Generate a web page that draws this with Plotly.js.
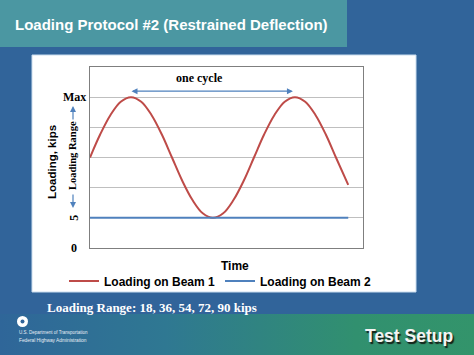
<!DOCTYPE html>
<html>
<head>
<meta charset="utf-8">
<script src="https://cdn.plot.ly/plotly-3.0.1.min.js"></script>
<style>
  html, body { margin: 0; padding: 0; }
  #slide { position: relative; width: 474px; height: 355px; overflow: hidden;
           background: #31649a; }
  #band { position: absolute; left: 0; top: 314px; width: 474px; height: 41px;
          background: linear-gradient(to right, #2f6699 0%, #2f7892 35%, #31906f 75%, #33946b 100%); }
  #chart { position: absolute; left: 0; top: 0; width: 474px; height: 355px; }
</style>
</head>
<body>
<div id="slide">
  <div id="band"></div>
  <div id="chart"></div>
</div>
<script>
// ---- data ----
const timeBeam1 = [0, 0.5, 1, 1.5, 2, 2.5, 3, 3.5, 4, 4.5, 5, 5.5, 6, 6.5, 7, 7.5, 8, 8.5, 9, 9.5, 10, 10.5, 11, 11.5, 12, 12.6];
const loadBeam1 = [3, 3.77, 4.41, 4.85, 5, 4.85, 4.41, 3.77, 3, 2.23, 1.59, 1.15, 1, 1.15, 1.59, 2.23, 3, 3.77, 4.41, 4.85, 5, 4.85, 4.41, 3.77, 3, 2.09];
const timeBeam2 = [0, 12.6];
const loadBeam2 = [1, 1];
const tickValues = [0, 1, 5];
const tickLabels = ['0', '5', 'Max'];
const seriesNames = ['Loading on Beam 1', 'Loading on Beam 2'];

// pixel helpers for placing decorations (plot area: x 90..363, y 67..248)
const L = 90, R = 363, T = 67, B = 248;
const px = x => (x - L) / (R - L);
const py = y => (B - y) / (B - T);

const RED = '#be4b48', BLUE = '#4f81bd';
const serif = 'Liberation Serif, Times New Roman, serif';
const sans = 'Liberation Sans, Arial, sans-serif';

function label(x, y, text, font, opts) {
  return Object.assign({ xref: 'paper', yref: 'paper', x: px(x), y: py(y), text: text,
    showarrow: false, xanchor: 'center', yanchor: 'middle', font: font }, opts || {});
}

const annotations = [];
// tick labels
tickValues.forEach((v, i) => {
  annotations.push({ xref: 'paper', yref: 'y', x: px(74), y: v, text: tickLabels[i],
    showarrow: false, xanchor: 'center', yanchor: 'middle',
    textangle: tickLabels[i] === '5' ? -90 : 0,
    font: { family: serif, size: 12, color: '#000', weight: 'bold' } });
});
// loading range label and arrows
annotations.push({ xref: 'paper', yref: 'y', x: px(73), y: 3.05, text: 'Loading Range',
  showarrow: false, textangle: -90, xanchor: 'center', yanchor: 'middle',
  font: { family: serif, size: 10.5, color: '#000', weight: 'bold' } });
annotations.push({ xref: 'paper', yref: 'y', x: px(73), y: 4.71, ax: 0, ay: 15, text: '',
  showarrow: true, arrowhead: 2, arrowsize: 1, arrowwidth: 1.2, arrowcolor: BLUE });
annotations.push({ xref: 'paper', yref: 'y', x: px(73), y: 1.33, ax: 0, ay: -15, text: '',
  showarrow: true, arrowhead: 2, arrowsize: 1, arrowwidth: 1.2, arrowcolor: BLUE });
// one cycle
annotations.push({ xref: 'x', yref: 'y', x: 9.9, y: 5.2, ax: 1.95, ay: 5.2,
  axref: 'x', ayref: 'y', text: '', showarrow: true, arrowside: 'end+start',
  arrowhead: 2, arrowsize: 1, arrowwidth: 1.2, arrowcolor: BLUE });
annotations.push(label(199, 78, 'one cycle', { family: serif, size: 12, color: '#000', weight: 'bold' }));
// axis titles
annotations.push(label(52, 162, 'Loading, kips', { family: sans, size: 11.5, color: '#000', weight: 'bold' }, { textangle: -90 }));
annotations.push(label(235, 266, 'Time', { family: sans, size: 12, color: '#000', weight: 'bold' }));
// slide texts
annotations.push(label(13, 24, 'Loading Protocol #2 (Restrained Deflection)',
  { family: sans, size: 15, color: '#ffffff', weight: 'bold' }, { xanchor: 'left' }));
annotations.push(label(45, 307, 'Loading Range: 18, 36, 54, 72, 90 kips',
  { family: serif, size: 13, color: '#ffffff', weight: 'bold' }, { xanchor: 'left' }));
annotations.push(label(455, 336, 'Test Setup',
  { family: sans, size: 17.5, color: '#f4f4f4', weight: 'bold', shadow: '1.5px 1.5px 1px #142018' }, { xanchor: 'right' }));
annotations.push(label(17, 332, 'U.S. Department of Transportation',
  { family: sans, size: 4.5, color: '#e8eef5' }, { xanchor: 'left' }));
annotations.push(label(17, 340, 'Federal Highway Administration',
  { family: sans, size: 4.8, color: '#e8eef5' }, { xanchor: 'left' }));

const shapes = [
  // title bar
  { type: 'rect', xref: 'paper', yref: 'paper', x0: px(0), x1: px(347), y0: py(47), y1: py(0),
    fillcolor: '#4b97a2', line: { width: 0 }, layer: 'below' },
  // white panel
  { type: 'rect', xref: 'paper', yref: 'paper', x0: px(32), x1: px(416), y0: py(292), y1: py(55),
    fillcolor: '#ffffff', line: { color: '#c9dcee', width: 1 }, layer: 'below' },
  // DOT logo
  { type: 'circle', xref: 'paper', yref: 'paper', x0: px(17), x1: px(28), y0: py(327), y1: py(316),
    fillcolor: '#ffffff', line: { width: 0 } },
  { type: 'circle', xref: 'paper', yref: 'paper', x0: px(20.5), x1: px(24.5), y0: py(323.5), y1: py(319.5),
    fillcolor: '#31649a', line: { width: 0 } }
];

const traces = [
  { x: timeBeam1, y: loadBeam1, name: seriesNames[0], mode: 'lines',
    line: { color: RED, width: 2, shape: 'spline' } },
  { x: timeBeam2, y: loadBeam2, name: seriesNames[1], mode: 'lines',
    line: { color: BLUE, width: 2 } }
];

const layout = {
  width: 474, height: 355,
  margin: { l: L, r: 474 - R, t: T, b: 355 - B, pad: 0 },
  paper_bgcolor: 'rgba(0,0,0,0)',
  plot_bgcolor: '#ffffff',
  showlegend: true,
  legend: { orientation: 'h', x: px(64), y: py(281), xanchor: 'left', yanchor: 'middle',
    bgcolor: 'rgba(0,0,0,0)', itemwidth: 30, traceorder: 'normal',
    font: { family: sans, size: 12, color: '#000', weight: 'bold' } },
  xaxis: { range: [0, 13.32], showgrid: false, zeroline: false, showticklabels: false,
    ticks: '', showline: true, mirror: true, linecolor: '#7f7f7f', linewidth: 1, fixedrange: true },
  yaxis: { range: [0, 6], dtick: 1, tick0: 0, showgrid: true, gridcolor: '#bfbfbf', gridwidth: 1,
    zeroline: false, showticklabels: false, ticks: '', showline: true, mirror: true,
    linecolor: '#7f7f7f', linewidth: 1, fixedrange: true },
  annotations: annotations,
  shapes: shapes
};

Plotly.newPlot('chart', traces, layout, { staticPlot: true, displayModeBar: false });
</script>
</body>
</html>
